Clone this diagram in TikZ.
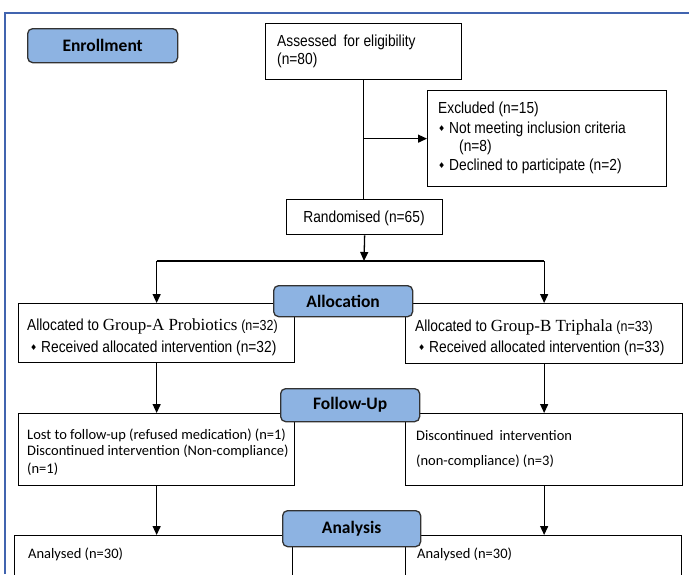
\documentclass[tikz,border=0pt]{standalone}
\usepackage{fontspec}
\setmainfont{Liberation Sans}
\newfontfamily\narrow[FakeStretch=0.86]{Liberation Sans}
\newfontfamily\carlito{Carlito}
\newfontfamily\timesf{Liberation Serif}
\newfontfamily\dejavu{DejaVu Sans}
\usetikzlibrary{arrows.meta}
\definecolor{framecol}{RGB}{65,100,175}
\definecolor{labelfill}{RGB}{141,179,226}
\definecolor{labelborder}{RGB}{50,50,50}
\newcommand{\dbul}{\raisebox{1.8pt}{\dejavu\fontsize{8}{8}\selectfont ♦}}
\tikzset{
  nar/.style={font=\narrow\fontsize{16}{19}\selectfont, inner sep=0pt, anchor=base west},
  cal/.style={font=\carlito\fontsize{14.5}{17}\selectfont, inner sep=0pt, anchor=base west},
  lbl/.style={draw=labelborder, fill=labelfill, rounded corners=5pt, line width=1.3pt,
              font=\carlito\bfseries\fontsize{17.5}{20}\selectfont, inner sep=0pt, anchor=north west},
  box/.style={draw, line width=1.3pt, inner sep=0pt, anchor=north west},
  conn/.style={line width=1.3pt},
  arr/.style={-{Triangle[length=9pt,width=8pt]}, line width=1.3pt},
}
\begin{document}
\begin{tikzpicture}[x=1pt,y=-1pt]
\useasboundingbox (0,0) rectangle (689,574);
\clip (0,0) rectangle (689,574);
\fill[white] (0,0) rectangle (689,574);
\draw[framecol, line width=2pt] (5,574) -- (5,12.5) -- (689,12.5);

% boxes
\node[box, minimum width=196pt, minimum height=56pt] (assess) at (265,23) {};
\node[box, minimum width=239pt, minimum height=96pt] (excl) at (427,90) {};
\node[box, minimum width=156pt, minimum height=35pt] (rand) at (286,199) {};
\node[box, minimum width=276pt, minimum height=59pt] (ga) at (18,303) {};
\node[box, minimum width=277pt, minimum height=60pt] (gb) at (405,303) {};
\node[box, minimum width=276pt, minimum height=72pt] (fa) at (18,413) {};
\node[box, minimum width=277pt, minimum height=72pt] (fb) at (405,413) {};
\node[box, minimum width=278pt, minimum height=60pt] (aa) at (14,535) {};
\node[box, minimum width=276pt, minimum height=60pt] (ab) at (405,535) {};

% texts
\node[nar] (t1) at (277,46) {Assessed\hspace{3pt} for eligibility};
\node[nar] (t2) at (277,64) {(n=80)};
\node[nar] (e1) at (438,113) {Excluded (n=15)};
\node[nar] (e2) at (438,133) {\dbul\ Not meeting inclusion criteria};
\node[nar] (e3) at (459,151) {(n=8)};
\node[nar] (e4) at (438,170) {\dbul\ Declined to participate (n=2)};
\node[nar, anchor=base] (r1) at (364,222) {Randomised (n=65)};
\node[nar] (a1) at (27,330) {Allocated to {\timesf\fontsize{17}{19}\selectfont Group-A Probiotics} {\fontsize{14.5}{17}\selectfont(n=32)}};
\node[nar] (a2) at (30,352) {\dbul\ Received allocated intervention (n=32)};
\node[nar] (b1) at (415,331) {Allocated to {\timesf\fontsize{17}{19}\selectfont Group-B Triphala} {\fontsize{14.5}{17}\selectfont(n=33)}};
\node[nar] (b2) at (418,352) {\dbul\ Received allocated intervention (n=33)};
\node[cal] (f1) at (27,439) {Lost to follow-up (refused medication) (n=1)};
\node[cal] (f2) at (27,455) {Discontinued intervention (Non-compliance)};
\node[cal] (f3) at (27,473) {(n=1)};
\node[cal] (g1) at (416,440) {Discontinued\hspace{3pt} intervention};
\node[cal] (g2) at (416,465) {(non-compliance) (n=3)};
\node[cal] (h1) at (28,558) {Analysed (n=30)};
\node[cal] (h2) at (417,558) {Analysed (n=30)};

% connectors
\coordinate (split) at (364,261);
\draw[conn] (assess.south) -- (assess.south |- rand.north);
\draw[arr] (assess.south |- excl.west) -- (excl.west);
\draw[arr] (rand.south) -- (split);
\draw[conn] (ga.north |- split) -- (gb.north |- split);
\draw[arr] (ga.north |- split) -- (ga.north);
\draw[arr] (gb.north |- split) -- (gb.north);
\draw[arr] (ga.south) -- (fa.north);
\draw[arr] (gb.south) -- (fb.north);
\draw[arr] (fa.south) -- (fa.south |- aa.north);
\draw[arr] (fb.south) -- (fb.south |- ab.north);

% phase labels
\node[lbl, minimum width=150pt, minimum height=34pt] (enr) at (27,28) {Enrollment};
\node[lbl, minimum width=139pt, minimum height=31pt] (alloc) at (273,285) {Allocation};
\node[lbl, minimum width=139pt, minimum height=33pt] (fu) at (280,388) {Follow-Up};
\node[lbl, minimum width=138pt, minimum height=36pt] (ana) at (282,510) {Analysis};
\end{tikzpicture}
\end{document}
